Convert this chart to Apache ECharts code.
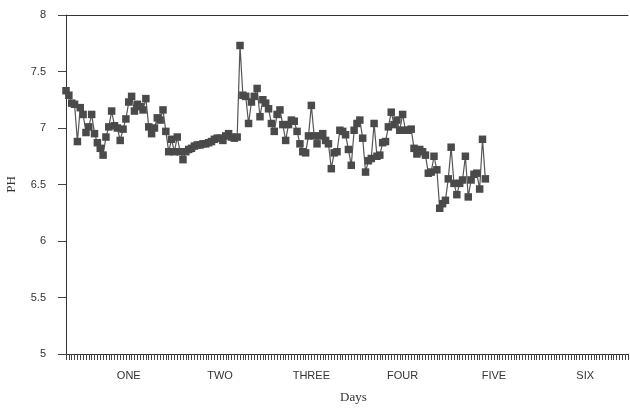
<!DOCTYPE html>
<html>
<head>
<meta charset="utf-8">
<script src="https://cdn.jsdelivr.net/npm/echarts@6/dist/echarts.min.js"></script>
<style>html,body{margin:0;padding:0;background:#fff;}#c{width:630px;height:409px;}</style>
</head>
<body>
<div id="c"></div>
<script>
// pH readings, one per sample (sample index along the Days axis)
var phValues = [
  7.33, 7.29, 7.22, 7.21, 6.88, 7.18, 7.12, 6.96, 7.01, 7.12,
  6.95, 6.87, 6.82, 6.76, 6.92, 7.01, 7.15, 7.02, 7.00, 6.89,
  6.99, 7.08, 7.23, 7.28, 7.15, 7.21, 7.19, 7.16, 7.26, 7.01,
  6.95, 7.00, 7.09, 7.07, 7.16, 6.97, 6.79, 6.90, 6.79, 6.92,
  6.79, 6.72, 6.79, 6.81, 6.82, 6.84, 6.85, 6.85, 6.86, 6.86,
  6.87, 6.88, 6.90, 6.91, 6.91, 6.89, 6.93, 6.95, 6.92, 6.91,
  6.92, 7.73, 7.29, 7.28, 7.04, 7.23, 7.28, 7.35, 7.10, 7.25,
  7.22, 7.17, 7.04, 6.97, 7.12, 7.16, 7.03, 6.89, 7.03, 7.07,
  7.06, 6.97, 6.86, 6.79, 6.78, 6.93, 7.20, 6.93, 6.86, 6.93,
  6.95, 6.89, 6.86, 6.64, 6.78, 6.79, 6.98, 6.97, 6.94, 6.81,
  6.67, 6.98, 7.04, 7.07, 6.91, 6.61, 6.71, 6.73, 7.04, 6.75,
  6.76, 6.87, 6.88, 7.01, 7.14, 7.03, 7.07, 6.98, 7.12, 6.98,
  6.98, 6.99, 6.82, 6.77, 6.81, 6.79, 6.76, 6.60, 6.61, 6.75,
  6.63, 6.29, 6.33, 6.36, 6.55, 6.83, 6.51, 6.41, 6.51, 6.54,
  6.75, 6.39, 6.54, 6.59, 6.60, 6.46, 6.90, 6.55
];
// Day labels and the sample index where each is printed
var dayLabels = ['ONE', 'TWO', 'THREE', 'FOUR', 'FIVE', 'SIX'];
var dayLabelAt = [22, 54, 86, 118, 150, 182];
var xMax = 197;
var yTicks = [5, 5.5, 6, 6.5, 7, 7.5, 8];

var seriesData = phValues.map(function (v, i) { return [i, v]; });
var labelMap = {};
dayLabelAt.forEach(function (p, i) { labelMap[p] = dayLabels[i]; });

var chart = echarts.init(document.getElementById('c'), null, {renderer: 'canvas'});
chart.setOption({
  animation: false,
  backgroundColor: '#fff',
  grid: {left: 66, right: 2, top: 15, bottom: 55, containLabel: false, outerBoundsMode: 'none'},
  xAxis: [{
    type: 'value', min: 0, max: xMax, interval: 1,
    axisLine: {show: true, lineStyle: {color: '#333', width: 1}},
    axisTick: {show: true, length: 6, lineStyle: {color: '#444', width: 1}},
    splitLine: {show: false},
    axisLabel: {
      margin: 16, color: '#333', fontFamily: 'Liberation Sans, Arial, sans-serif', fontSize: 11,
      formatter: function (v) { return labelMap[Math.round(v)] || ''; }
    }
  }, {
    type: 'value', min: 0, max: xMax, position: 'top',
    axisLine: {show: true, lineStyle: {color: '#333', width: 1}},
    axisTick: {show: false}, axisLabel: {show: false}, splitLine: {show: false}
  }],
  yAxis: {
    type: 'value', min: yTicks[0], max: yTicks[yTicks.length - 1], interval: 0.5,
    name: 'PH', nameLocation: 'middle', nameGap: 48, nameRotate: 90,
    nameTextStyle: {fontFamily: 'Liberation Serif, Times New Roman, serif', fontSize: 13, color: '#333'},
    axisLine: {show: true, lineStyle: {color: '#333', width: 1}},
    axisTick: {show: true, length: 8, inside: false, lineStyle: {color: '#444'}},
    splitLine: {show: false},
    axisLabel: {margin: 20, color: '#333', fontFamily: 'Liberation Sans, Arial, sans-serif', fontSize: 11,
      formatter: function (v) { return String(v); }}
  },
  graphic: [{
    type: 'text', left: 340, top: 391,
    style: {text: 'Days', font: '13px "Liberation Serif", "Times New Roman", serif', fill: '#333'}
  }],
  series: [{
    type: 'line',
    data: seriesData,
    symbol: 'rect', symbolSize: 7.5,
    itemStyle: {color: '#4a4a4a'},
    lineStyle: {color: '#555', width: 1.2},
    xAxisIndex: 0
  }]
});
</script>
</body>
</html>
